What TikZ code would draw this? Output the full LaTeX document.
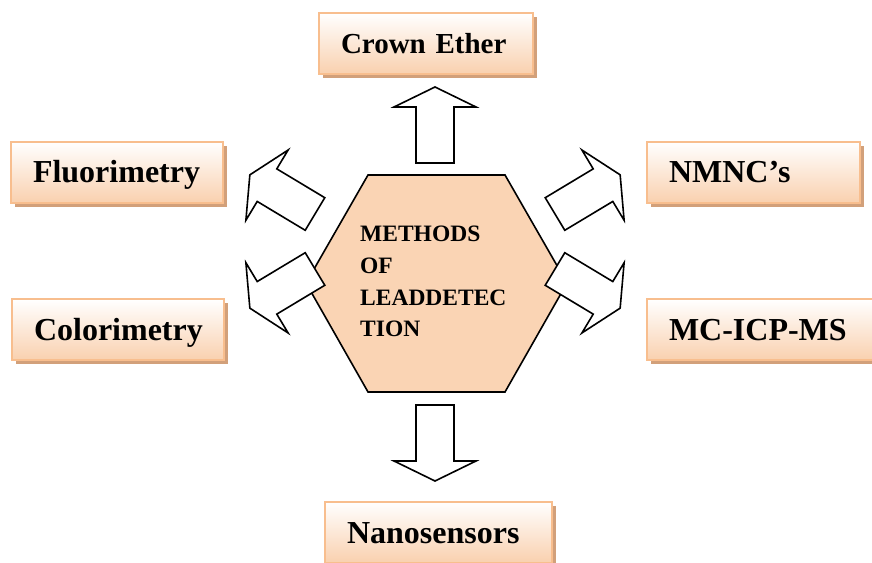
\documentclass[tikz,border=0pt]{standalone}
\usepackage{fontspec}
\setmainfont{Liberation Serif}
\usetikzlibrary{shadows}

\definecolor{hexpeach}{RGB}{250,212,180}
\definecolor{boxline}{RGB}{248,190,142}
\definecolor{boxpeach}{RGB}{249,208,174}
\definecolor{boxshadow}{RGB}{210,160,122}

\tikzset{
  method/.style={rectangle, draw=boxline, line width=2pt,
    top color=white, bottom color=boxpeach,
    minimum height=61pt, inner xsep=22pt, inner ysep=0pt,
    align=left, text height=21pt, text depth=0pt,
    font=\bfseries\fontsize{32}{37}\selectfont,
    drop shadow={shadow xshift=4pt, shadow yshift=-4pt,
      fill=boxshadow, opacity=1}},
  blockarrow/.style={draw=black, fill=white, line width=1.6pt, line join=miter}
}

% hollow arrow, tail centre at #1, pointing at angle #2
\newcommand{\outarrow}[2]{%
  \draw[blockarrow, shift={(#1)}, rotate=#2]
    (0,-19) -- (56,-19) -- (56,-41) -- (76,0) -- (56,41) -- (56,19)
    -- (0,19) -- cycle;}

\begin{document}
\begin{tikzpicture}[x=1pt, y=1pt]

  \useasboundingbox (0,0) rectangle (872,562);
  \clip (0,0) rectangle (872,562);

  % centre hexagon
  \draw[line width=1.6pt, fill=hexpeach]
    (368,387) -- (505,387) -- (567,279) -- (505,170) -- (368,170)
    -- (306,279) -- cycle;
  \node[anchor=base west, align=left, inner sep=0pt,
    font=\bfseries\fontsize{23.5}{31.7}\selectfont] (title) at (360,225)
    {METHODS\\ OF\\ LEADDETEC\\ TION};

  % arrow tails
  \coordinate (tailN) at (435,399);
  \coordinate (tailS) at (435,157);
  \coordinate (tailNW) at (315,348);
  \coordinate (tailSW) at (315,293);
  \coordinate (tailNE) at (555,348);
  \coordinate (tailSE) at (555,293);

  \outarrow{tailN}{90}
  \outarrow{tailS}{-90}
  \outarrow{tailNW}{149}
  \outarrow{tailSW}{211}
  \outarrow{tailNE}{31}
  \outarrow{tailSE}{-31}

  % method boxes
  \node[method, text width=170pt, font=\bfseries\fontsize{29}{34}\selectfont]
    (crown) at (426,518.5) {Crown~Ether};
  \node[method, text width=168pt] (fluor) at (117,389.5) {Fluorimetry};
  \node[method, text width=169pt] (nmnc) at (753.5,389.5) {NMNC’s};
  \node[method, text width=168pt] (color) at (118,232) {Colorimetry};
  \node[method, text width=200pt] (mcicp) at (769,232) {MC-ICP-MS};
  \node[method, text width=183pt] (nano) at (438.5,29.5) {Nanosensors};

\end{tikzpicture}
\end{document}
